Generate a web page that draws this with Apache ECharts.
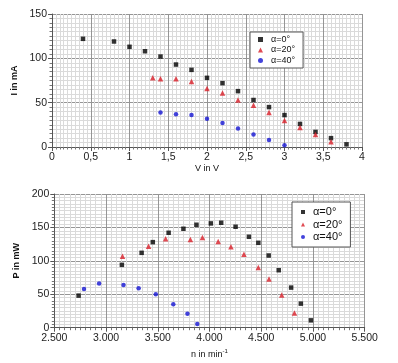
<!DOCTYPE html>
<html><head><meta charset="utf-8">
<script src="https://cdn.jsdelivr.net/npm/echarts@6/dist/echarts.min.js"></script>
<style>html,body{margin:0;padding:0;background:#fff}#c{width:398px;height:363px}</style>
</head><body><div id="c"></div>
<script>
const seriesNames = ['α=0°', 'α=20°', 'α=40°'];
// Top chart: current vs voltage
const voltage0 = [0.4,0.8,1.0,1.2,1.4,1.6,1.8,2.0,2.2,2.4,2.6,2.8,3.0,3.2,3.4,3.6,3.8];
const current0 = [122,119,113,108,102,93,87,78,72,63,53,45,36,26,17,10,3];
const voltage20 = [1.3,1.4,1.6,1.8,2.0,2.2,2.4,2.6,2.8,3.0,3.2,3.4,3.6];
const current20 = [78,77,77,74,66,61,53,47,39,30,22,14,6];
const voltage40 = [1.4,1.6,1.8,2.0,2.2,2.4,2.6,2.8,3.0];
const current40 = [39,37,36,32,27,21,14,8,2];
// Bottom chart: power vs speed
const speed0 = [2735,3153,3344,3452,3605,3748,3874,4013,4113,4252,4381,4472,4572,4669,4789,4883,4980];
const power0 = [48,94,112,128,142,148,154,156,157,151,136,127,108,86,60,36,11];
const speed20 = [3159,3411,3576,3815,3932,4084,4207,4333,4472,4575,4698,4821];
const power20 = [107,122,133,132,135,129,121,110,90,73,49,22];
const speed40 = [2787,2933,3169,3315,3481,3650,3787,3882];
const power40 = [58,66,64,59,50,35,21,5.5];

const zip = (a, b) => a.map((v, i) => [v, b[i]]);
const FONT = 'Liberation Sans';
const colors = ['#000000', '#d81e28', '#1414d2'];
const symbols = ['rect', 'triangle', 'circle'];
const sizes = [4.5, 5.5, 4.5];

function valueAxis(idx, min, max, interval, name, gap, fmt, bold) {
  return {
    type: 'value', gridIndex: idx, min, max, interval,
    name, nameLocation: 'middle', nameGap: gap,
    nameTextStyle: { fontFamily: FONT, fontSize: 9, color: '#111', fontWeight: bold ? 'bold' : 'normal' },
    axisLine: { show: true, onZero: false, lineStyle: { color: '#555', width: 1 } },
    axisTick: { show: true, length: 4, lineStyle: { color: '#555' } },
    minorTick: { show: true, splitNumber: 10, length: 2.5, lineStyle: { color: '#777' } },
    splitLine: { show: true, lineStyle: { color: '#959595', width: 1 } },
    minorSplitLine: { show: true, lineStyle: { color: '#dadada', width: 1 } },
    axisLabel: { fontFamily: FONT, fontSize: 10.5, color: '#222', margin: 5, formatter: fmt }
  };
}

const fmtComma = v => String(v).replace('.', ',');
const fmtThousands = v => { const s = String(Math.round(v)); return s.length > 3 ? s.slice(0, -3) + '.' + s.slice(-3) : s; };

const series = [];
const topData = [zip(voltage0, current0), zip(voltage20, current20), zip(voltage40, current40)];
const botData = [zip(speed0, power0), zip(speed20, power20), zip(speed40, power40)];
for (let i = 0; i < 3; i++) {
  series.push({ type: 'scatter', name: seriesNames[i], xAxisIndex: 0, yAxisIndex: 0,
    symbol: symbols[i], symbolSize: sizes[i], itemStyle: { color: colors[i] }, data: topData[i], silent: true });
}
for (let i = 0; i < 3; i++) {
  series.push({ type: 'scatter', name: seriesNames[i], xAxisIndex: 1, yAxisIndex: 1,
    symbol: symbols[i], symbolSize: sizes[i], itemStyle: { color: colors[i] }, data: botData[i], silent: true });
}

const xTop = valueAxis(0, 0, 4, 0.5, 'V in V', 16, fmtComma, false);
const yTop = valueAxis(0, 0, 150, 50, 'I in mA', 21, null, true);
const xBot = valueAxis(1, 2500, 5500, 500, 'n in min{sup|-1}', 21, fmtThousands, false);
xBot.nameTextStyle.rich = { sup: { fontFamily: FONT, fontSize: 6, verticalAlign: 'top', padding: [0, 0, 5, 0], color: '#111' } };
const yBot = valueAxis(1, 0, 200, 50, 'P in mW', 23, null, true);

function legend(left, top, fs, lh, gap, pad, icon) {
  return {
    orient: 'vertical', left, top, data: seriesNames,
    padding: pad, itemGap: gap, itemWidth: icon, itemHeight: icon,
    borderColor: '#555', borderWidth: 1, backgroundColor: '#fff',
    textStyle: { fontFamily: FONT, fontSize: fs, lineHeight: lh, color: '#111', padding: [0, 0, 0, 3] },
    selectedMode: false
  };
}

const chart = echarts.init(document.getElementById('c'), null, { renderer: 'canvas' });
chart.setOption({
  animation: false,
  backgroundColor: '#fff',
  grid: [
    { left: 52, top: 14, width: 310, height: 133 },
    { left: 54.3, top: 194, width: 310.4, height: 133.7 }
  ],
  xAxis: [xTop, xBot],
  yAxis: [yTop, yBot],
  legend: [
    legend(250, 32, 9, 9, 1.5, [3, 8, 3, 8], 5),
    legend(292, 202, 11, 10, 1.5, [4.5, 8, 4.5, 9], 4)
  ],
  series
});
</script>
</body></html>
